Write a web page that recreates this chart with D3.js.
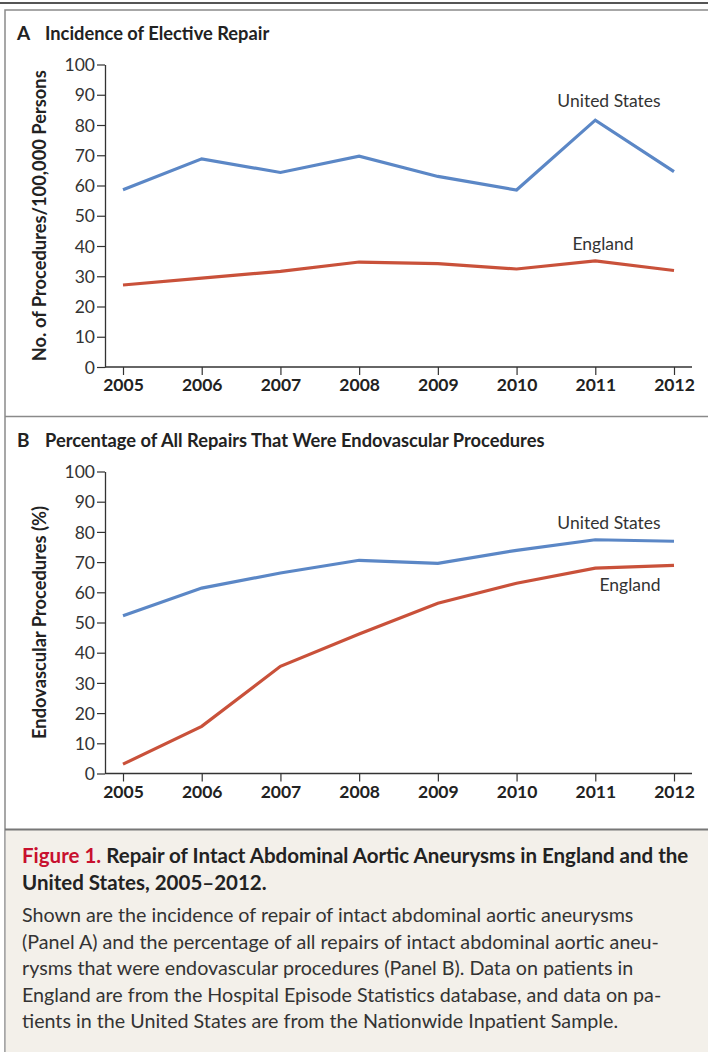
<!DOCTYPE html>
<html><head><meta charset="utf-8">
<script src="https://cdn.jsdelivr.net/npm/d3@7"></script>
<style>body{margin:0;background:#fff}svg{display:block}</style>
</head><body>
<script>
const years = [2005, 2006, 2007, 2008, 2009, 2010, 2011, 2012];
const yTicks = [0, 10, 20, 30, 40, 50, 60, 70, 80, 90, 100];
const incidenceUS = [58.6, 68.8, 64.3, 69.7, 63.0, 58.5, 81.6, 64.6];
const incidenceEngland = [27.1, 29.4, 31.6, 34.7, 34.2, 32.4, 35.1, 31.9];
const evarUS = [52.2, 61.4, 66.4, 70.6, 69.6, 73.9, 77.4, 76.9];
const evarEngland = [3.1, 15.6, 35.5, 46.2, 56.4, 63.0, 68.0, 68.9];

const W = 708, H = 1052;
const svg = d3.select("body").append("svg").attr("width", W).attr("height", H)
  .style("font-family", "Lato, 'Open Sans', sans-serif");

// frame
svg.append("rect").attr("x", 0).attr("y", 2).attr("width", W).attr("height", 2).attr("fill", "#555");
svg.append("rect").attr("x", 5).attr("y", 10).attr("width", W + 5).attr("height", H).attr("fill", "none")
  .attr("stroke", "#8a8a8a").attr("stroke-width", 1.5);
svg.append("line").attr("x1", 5).attr("x2", W).attr("y1", 416.5).attr("y2", 416.5).attr("stroke", "#8a8a8a").attr("stroke-width", 1.5);
svg.append("rect").attr("x", 5.75).attr("y", 830).attr("width", W).attr("height", H - 830).attr("fill", "#f3f0ea");
svg.append("line").attr("x1", 5).attr("x2", W).attr("y1", 829.5).attr("y2", 829.5).attr("stroke", "#777").attr("stroke-width", 2);

const x = d3.scalePoint().domain(years).range([123, 674]);

function panel(letter, title, ytitle, top, bottom, us, eng, usLab, engLab) {
  const y = d3.scaleLinear().domain([0, 100]).range([bottom, top]);
  const g = svg.append("g");
  g.append("text").attr("x", 17).attr("y", top - 25).attr("font-size", 19).attr("font-weight", 700)
    .attr("fill", "#222").text(letter);
  g.append("text").attr("x", 45).attr("y", top - 25).attr("font-size", 18.3).attr("font-weight", 700)
    .attr("fill", "#222").text(title);
  // y axis
  const ya = g.append("g").attr("transform", "translate(105,0)")
    .call(d3.axisLeft(y).tickValues(yTicks).tickSize(8).tickPadding(2).tickSizeOuter(0));
  ya.select(".domain").attr("stroke", "#333").attr("stroke-width", 1.3);
  ya.selectAll(".tick line").attr("stroke", "#333").attr("stroke-width", 1.2);
  ya.selectAll(".tick text").attr("font-size", 17.5).attr("fill", "#333").attr("font-family", "Lato, sans-serif").attr("dy", "0.35em");
  // x axis
  const xa = g.append("g").attr("transform", `translate(0,${bottom})`)
    .call(d3.axisBottom(x).tickSize(8).tickPadding(4).tickSizeOuter(0));
  xa.select(".domain").attr("d", `M105,0H692`).attr("stroke", "#333").attr("stroke-width", 1.3);
  xa.selectAll(".tick line").attr("stroke", "#333").attr("stroke-width", 1.2);
  xa.selectAll(".tick text").attr("font-size", 17.5).attr("font-weight", 700).attr("fill", "#222").attr("font-family", "Lato, sans-serif");
  // y title
  g.append("text").attr("transform", `translate(46,${(top + bottom) / 2}) rotate(-90)`)
    .attr("text-anchor", "middle").attr("font-size", 18.3).attr("font-weight", 700).attr("fill", "#222").text(ytitle);
  const line = d3.line().x((d, i) => x(years[i])).y(d => y(d));
  g.append("path").datum(us).attr("d", line).attr("fill", "none").attr("stroke", "#5b87c6")
    .attr("stroke-width", 3.2).attr("stroke-linejoin", "miter");
  g.append("path").datum(eng).attr("d", line).attr("fill", "none").attr("stroke", "#c9513a")
    .attr("stroke-width", 3.2).attr("stroke-linejoin", "miter");
  g.append("text").attr("x", usLab[0]).attr("y", usLab[1]).attr("text-anchor", "middle").attr("font-size", 17.5)
    .attr("fill", "#333").text("United States");
  g.append("text").attr("x", engLab[0]).attr("y", engLab[1]).attr("text-anchor", "middle").attr("font-size", 17.5)
    .attr("fill", "#333").text("England");
}

panel("A", "Incidence of Elective Repair", "No. of Procedures/100,000 Persons", 64.5, 367,
  incidenceUS, incidenceEngland, [609, 107], [603, 250]);
panel("B", "Percentage of All Repairs That Were Endovascular Procedures", "Endovascular Procedures (%)", 471.5, 773.5,
  evarUS, evarEngland, [609, 529], [630, 591]);

// caption
const cap = svg.append("g").attr("font-size", 20.5).attr("fill", "#222");
const t1 = cap.append("text").attr("x", 22).attr("y", 863).attr("font-weight", 700);
t1.append("tspan").attr("fill", "#c8102e").text("Figure 1. ");
t1.append("tspan").text("Repair of Intact Abdominal Aortic Aneurysms in England and the");
cap.append("text").attr("x", 22).attr("y", 890).attr("font-weight", 700).text("United States, 2005\u20132012.");
const body = [
  "Shown are the incidence of repair of intact abdominal aortic aneurysms",
  "(Panel A) and the percentage of all repairs of intact abdominal aortic aneu-",
  "rysms that were endovascular procedures (Panel B). Data on patients in",
  "England are from the Hospital Episode Statistics database, and data on pa-",
  "tients in the United States are from the Nationwide Inpatient Sample."
];
cap.selectAll("text.b").data(body).join("text").attr("class", "b").attr("x", 22)
  .attr("y", (d, i) => 922 + i * 26.5).attr("font-size", 19.7).attr("font-weight", 400).attr("fill", "#333").text(d => d);
</script>
</body></html>
